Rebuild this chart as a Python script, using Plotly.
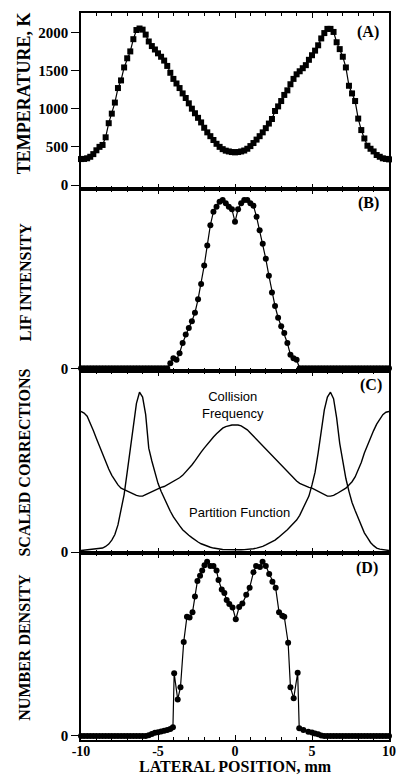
import plotly.graph_objects as go

# ---------------- data ----------------
x_mm = [
    -10.0, -9.8, -9.6, -9.4, -9.2, -9.0, -8.8, -8.6, -8.4, -8.2,
    -8.0, -7.8, -7.6, -7.4, -7.2, -7.0, -6.8, -6.6, -6.4, -6.2,
    -6.0, -5.8, -5.6, -5.4, -5.2, -5.0, -4.8, -4.6, -4.4, -4.2,
    -4.0, -3.8, -3.6, -3.4, -3.2, -3.0, -2.8, -2.6, -2.4, -2.2,
    -2.0, -1.8, -1.6, -1.4, -1.2, -1.0, -0.8, -0.6, -0.4, -0.2,
    0.0,
    0.2, 0.4, 0.6, 0.8, 1.0, 1.2, 1.4, 1.6, 1.8, 2.0,
    2.2, 2.4, 2.6, 2.8, 3.0, 3.2, 3.4, 3.6, 3.8, 4.0,
    4.2, 4.4, 4.6, 4.8, 5.0, 5.2, 5.4, 5.6, 5.8, 6.0,
    6.2, 6.4, 6.6, 6.8, 7.0, 7.2, 7.4, 7.6, 7.8, 8.0,
    8.2, 8.4, 8.6, 8.8, 9.0, 9.2, 9.4, 9.6, 9.8, 10.0,
]

temperature_K = [
    340, 342, 350, 370, 405, 455, 500, 525, 625, 810,
    935, 1080, 1270, 1370, 1540, 1660, 1750, 1910, 2030, 2050,
    2035, 1970, 1880, 1820, 1775, 1725, 1680, 1630, 1560, 1470,
    1390, 1330, 1270, 1200, 1140, 1070, 1000, 940, 880, 820,
    750, 690, 640, 590, 540, 500, 470, 450, 440, 432,
    428,
    432, 440, 452, 475, 510, 550, 595, 640, 690, 745,
    805, 865, 970, 1030, 1100, 1180, 1240, 1320, 1390, 1450,
    1490, 1530, 1570, 1640, 1700, 1760, 1830, 1920, 1990, 2045,
    2045, 2005, 1870, 1780, 1680, 1540, 1300, 1200, 1100, 870,
    720, 610, 515, 475, 440, 393, 370, 350, 342, 336,
]

lif_intensity = [
    0, 0, 0, 0, 0, 0, 0, 0, 0, 0,
    0, 0, 0, 0, 0, 0, 0, 0, 0, 0,
    0, 0, 0, 0, 0, 0, 0, 0, 0, 0.03,
    0.06, 0.05, 0.09, 0.15, 0.20, 0.24, 0.28, 0.33, 0.41, 0.50,
    0.61, 0.73, 0.85, 0.93, 0.96, 0.99, 1.0, 0.98, 0.96, 0.945,
    0.87,
    0.945, 0.98, 1.0, 1.0, 0.98, 0.965, 0.90, 0.82, 0.74, 0.65,
    0.55, 0.45, 0.37, 0.30, 0.25, 0.21, 0.15, 0.08, 0.06, 0.05,
    0, 0, 0, 0, 0, 0, 0, 0, 0, 0,
    0, 0, 0, 0, 0, 0, 0, 0, 0, 0,
    0, 0, 0, 0, 0, 0, 0, 0, 0, 0,
]

collision_frequency = [
    0.88, 0.87, 0.85, 0.81, 0.76, 0.71, 0.66, 0.62, 0.57, 0.52,
    0.48, 0.45, 0.42, 0.40, 0.39, 0.38, 0.37, 0.36, 0.355, 0.35,
    0.35, 0.36, 0.37, 0.38, 0.39, 0.40, 0.405, 0.41, 0.42, 0.43,
    0.44, 0.45, 0.465, 0.48, 0.50, 0.52, 0.545, 0.57, 0.60, 0.625,
    0.65, 0.675, 0.70, 0.72, 0.74, 0.76, 0.775, 0.785, 0.79, 0.795,
    0.795,
    0.795, 0.79, 0.78, 0.765, 0.745, 0.725, 0.70, 0.68, 0.66, 0.64,
    0.62, 0.60, 0.58, 0.56, 0.54, 0.52, 0.50, 0.48, 0.46, 0.445,
    0.43, 0.42, 0.41, 0.405, 0.40, 0.39, 0.38, 0.37, 0.36, 0.35,
    0.35, 0.355, 0.365, 0.375, 0.385, 0.40, 0.42, 0.44, 0.47, 0.51,
    0.56, 0.62, 0.67, 0.72, 0.76, 0.80, 0.83, 0.86, 0.875, 0.88,
]

partition_function = [
    0.010, 0.012, 0.014, 0.016, 0.018, 0.020, 0.022, 0.025, 0.035, 0.05,
    0.075, 0.11, 0.17, 0.26, 0.36, 0.50, 0.64, 0.80, 0.93, 1.0,
    0.97, 0.86, 0.65, 0.57, 0.49, 0.43, 0.38, 0.335, 0.29, 0.255,
    0.22, 0.19, 0.165, 0.14, 0.12, 0.105, 0.09, 0.075, 0.063, 0.052,
    0.043, 0.036, 0.03, 0.025, 0.021, 0.018, 0.016, 0.015, 0.014, 0.014,
    0.014,
    0.014, 0.014, 0.015, 0.016, 0.018, 0.021, 0.025, 0.03, 0.036, 0.045,
    0.054, 0.065, 0.075, 0.09, 0.105, 0.12, 0.14, 0.16, 0.18, 0.20,
    0.23, 0.27, 0.31, 0.35, 0.42, 0.50, 0.62, 0.76, 0.89, 0.97,
    1.0, 0.96, 0.84, 0.68, 0.56, 0.46, 0.38, 0.31, 0.26, 0.21,
    0.16, 0.12, 0.09, 0.06, 0.04, 0.025, 0.018, 0.014, 0.012, 0.010,
]

x_density = [
    -10.0, -9.8, -9.6, -9.4, -9.2, -9.0, -8.8, -8.6, -8.4, -8.2,
    -8.0, -7.8, -7.6, -7.4, -7.2, -7.0, -6.8, -6.6, -6.4, -6.2,
    -6.0, -5.8, -5.6, -5.4, -5.2, -5.0, -4.8, -4.6, -4.4, -4.2,
    -4.03, -3.95, -3.72, -3.54, -3.33, -3.12, -2.95, -2.76, -2.6, -2.44,
    -2.27, -2.13, -1.98, -1.81, -1.6, -1.4, -1.2, -1.07, -0.86, -0.69,
    -0.54, -0.37, -0.16, 0.05, 0.27, 0.48, 0.73, 0.95, 1.2, 1.37,
    1.62, 1.79, 2.0, 2.22, 2.43, 2.64, 2.86, 3.07, 3.2, 3.45,
    3.6, 3.81, 4.07, 4.17, 4.44, 4.76, 5.0, 5.2, 5.4, 5.6,
    5.8, 6.0, 6.2, 6.4, 6.6, 6.8, 7.0, 7.2, 7.4, 7.6,
    7.8, 8.0, 8.2, 8.4, 8.6, 8.8, 9.0, 9.2, 9.4, 9.6,
    9.8, 10.0,
]

number_density = [
    0, 0, 0, 0, 0, 0, 0, 0, 0, 0,
    0, 0, 0, 0, 0, 0, 0, 0, 0, 0,
    0, 0, 0.005, 0.012, 0.018, 0.022, 0.026, 0.03, 0.035, 0.04,
    0.05, 0.36, 0.21, 0.28, 0.54, 0.685, 0.68, 0.71, 0.80, 0.89,
    0.92, 0.95, 0.98, 1.0, 0.975, 0.975, 0.95, 0.895, 0.84, 0.82,
    0.78, 0.757, 0.738, 0.67, 0.74, 0.76, 0.81, 0.85, 0.94, 0.975,
    0.97, 1.0, 0.975, 0.93, 0.885, 0.85, 0.71, 0.69, 0.685, 0.535,
    0.28, 0.216, 0.363, 0.044, 0.034, 0.025, 0.02, 0.015, 0.01, 0.003,
    0, 0, 0, 0, 0, 0, 0, 0, 0, 0,
    0, 0, 0, 0, 0, 0, 0, 0, 0, 0,
    0, 0,
]

x_tick_vals = [-10, -5, 0, 5, 10]
x_tick_text = ["-10", "-5", "0", "5", "10"]
x_minor_vals = [-9, -8, -7, -6, -4, -3, -2, -1, 1, 2, 3, 4, 6, 7, 8, 9]
temp_tick_vals = [0, 500, 1000, 1500, 2000]
panel_labels = ["(A)", "(B)", "(C)", "(D)"]
y_titles = ["TEMPERATURE, K", "LIF INTENSITY", "SCALED CORRECTIONS", "NUMBER DENSITY"]
x_title = "LATERAL POSITION, mm"

# ---------------- figure ----------------
SERIF = "Liberation Serif, Times New Roman, serif"
SANS = "Liberation Sans, Arial, sans-serif"

fig = go.Figure()

line_style = dict(color="black", width=1.2)
fig.add_trace(go.Scatter(x=x_mm, y=temperature_K, mode="lines+markers",
                         line=line_style,
                         marker=dict(symbol="square", size=6, color="black"),
                         xaxis="x", yaxis="y", cliponaxis=False, showlegend=False))
fig.add_trace(go.Scatter(x=x_mm, y=lif_intensity, mode="lines+markers",
                         line=line_style,
                         marker=dict(symbol="circle", size=6, color="black"),
                         xaxis="x2", yaxis="y2", cliponaxis=False, showlegend=False))
fig.add_trace(go.Scatter(x=x_mm, y=collision_frequency, mode="lines",
                         line=dict(color="black", width=1.4),
                         xaxis="x3", yaxis="y3", cliponaxis=False, showlegend=False))
fig.add_trace(go.Scatter(x=x_mm, y=partition_function, mode="lines",
                         line=dict(color="black", width=1.4),
                         xaxis="x3", yaxis="y3", cliponaxis=False, showlegend=False))
fig.add_trace(go.Scatter(x=x_density, y=number_density, mode="lines+markers",
                         line=line_style,
                         marker=dict(symbol="circle", size=6, color="black"),
                         xaxis="x4", yaxis="y4", cliponaxis=False, showlegend=False))

tickfont = dict(family=SERIF, size=15, color="black", weight="bold")

def xaxis_cfg(anchor, show_labels):
    return dict(
        anchor=anchor, range=[-10, 10], showline=True, linewidth=1.6,
        linecolor="black", mirror="ticks", ticks="inside", ticklen=5,
        tickwidth=1.2, tickcolor="black", tickmode="array",
        tickvals=x_tick_vals, ticktext=x_tick_text,
        minor=dict(tickmode="array", tickvals=x_minor_vals, ticks="inside",
                   ticklen=3, tickwidth=1, tickcolor="black"),
        showgrid=False, zeroline=False, showticklabels=show_labels,
        ticklabelstandoff=-3,
        tickfont=dict(family=SERIF, size=14, color="black", weight="bold"),
    )

def yaxis_cfg(anchor, domain, rng, vals):
    return dict(
        anchor=anchor, domain=domain, range=rng, showline=True,
        linewidth=1.6, linecolor="black", mirror=True, ticks="outside",
        ticklen=8, tickwidth=1.4, tickcolor="black", tickmode="array",
        tickvals=vals, ticktext=[str(v) for v in vals],
        showgrid=False, zeroline=False, tickfont=tickfont,
    )

fig.update_layout(
    width=405, height=776,
    margin=dict(l=81, r=9, t=13, b=36),
    paper_bgcolor="white", plot_bgcolor="white",
    xaxis=xaxis_cfg("y", False),
    xaxis2=xaxis_cfg("y2", False),
    xaxis3=xaxis_cfg("y3", False),
    xaxis4=xaxis_cfg("y4", True),
    yaxis=yaxis_cfg("x", [0.7579, 1.0], [-52, 2253], temp_tick_vals),
    yaxis2=yaxis_cfg("x2", [0.5076, 0.7579], [-0.016, 1.065], [0]),
    yaxis3=yaxis_cfg("x3", [0.2572, 0.5076], [-0.006, 1.133], [0]),
    yaxis4=yaxis_cfg("x4", [0.0, 0.2572], [-0.023, 1.05], [0]),
)

# panel letters
label_pos = [(0.933, 0.974), (0.933, 0.739), (0.943, 0.488), (0.927, 0.237)]
for txt, (px, py) in zip(panel_labels, label_pos):
    fig.add_annotation(text=txt, x=px, y=py, xref="paper", yref="paper",
                       showarrow=False, xanchor="center", yanchor="middle",
                       font=dict(family=SERIF, size=16, color="black", weight="bold"))

# y titles
title_specs = [(0.890, 23, 18), (0.630, 25, 16), (0.382, 23, 16), (0.128, 23.5, 16)]
for txt, (py, pxl, fs) in zip(y_titles, title_specs):
    fig.add_annotation(text=txt, x=(pxl - 81) / 315, y=py, xref="paper", yref="paper",
                       showarrow=False, textangle=-90, xanchor="center", yanchor="middle",
                       font=dict(family=SERIF, size=fs, color="black", weight="bold"))

# x title
fig.add_annotation(text=x_title, x=0.5, y=-36 / 727, xref="paper", yref="paper",
                   showarrow=False, xanchor="center", yanchor="bottom",
                   borderpad=0,
                   font=dict(family=SERIF, size=16, color="black", weight="bold"))

# curve labels in panel C
fig.add_annotation(text="Collision<br>Frequency", x=-0.1, y=0.92, xref="x3", yref="y3",
                   showarrow=False, xanchor="center", yanchor="middle",
                   font=dict(family=SANS, size=13, color="black"))
fig.add_annotation(text="Partition Function", x=0.3, y=0.246, xref="x3", yref="y3",
                   showarrow=False, xanchor="center", yanchor="middle",
                   font=dict(family=SANS, size=13, color="black"))

fig.write_html("out.html",
               config={"displayModeBar": False},
               post_script="document.body.style.margin='0px';document.body.style.padding='0px';")
